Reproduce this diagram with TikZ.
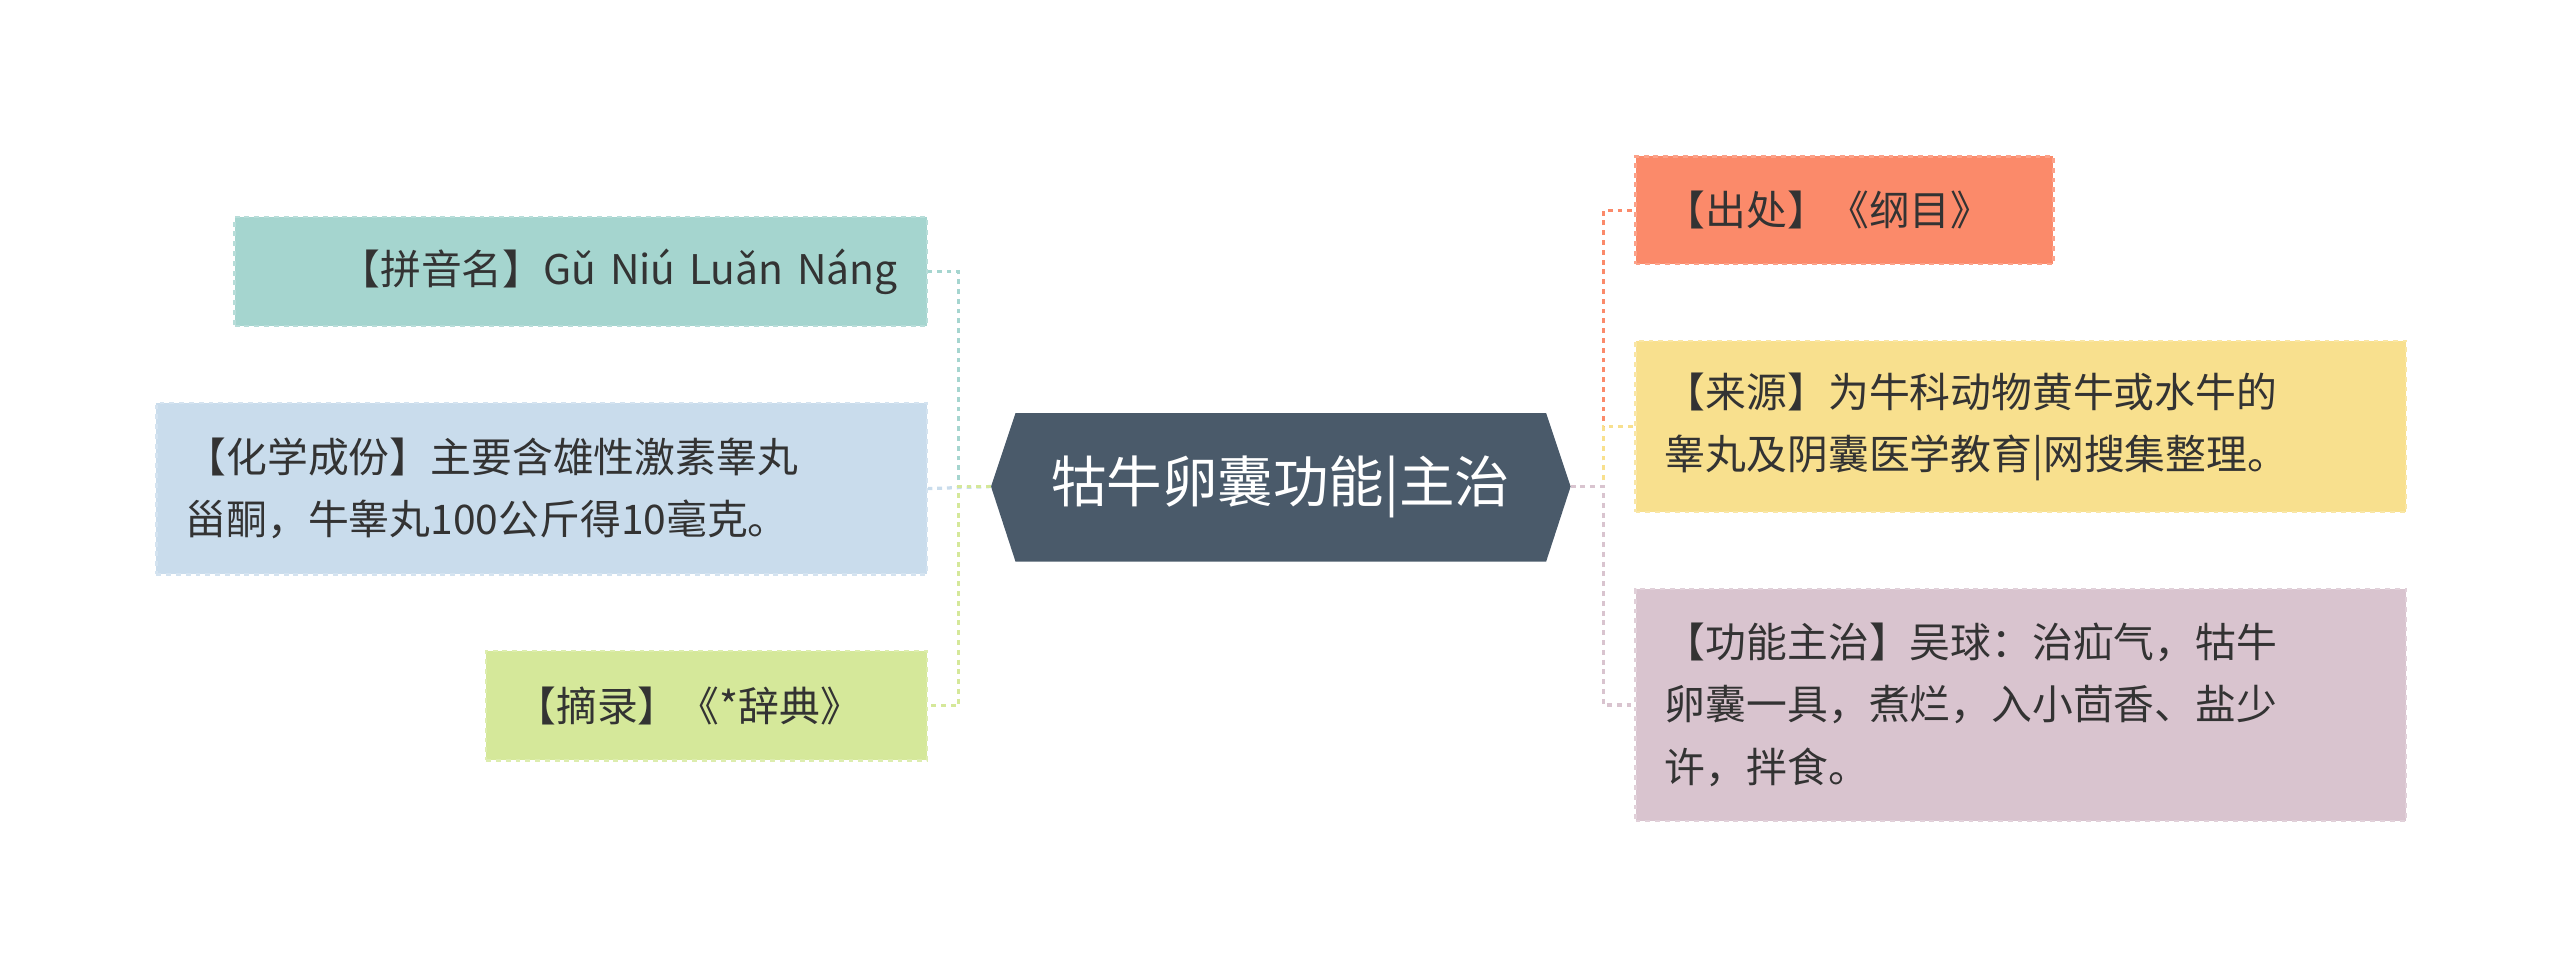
\documentclass[tikz,border=0pt]{standalone}
\usepackage{fontspec}
\setmainfont{Noto Sans CJK SC}
\usetikzlibrary{shapes.geometric}
\definecolor{cteal}{HTML}{A5D5CF}
\definecolor{cblue}{HTML}{C9DCEC}
\definecolor{cgreen}{HTML}{D5E89A}
\definecolor{corange}{HTML}{FB8A6A}
\definecolor{cyellow}{HTML}{F8E08E}
\definecolor{cpink}{HTML}{D9C4CF}
\definecolor{ccenter}{HTML}{4A5A6A}
\definecolor{ctext}{HTML}{333333}
\tikzset{
  x=1pt,y=-1pt,
  leaf/.style={draw=#1!80!white,dashed,line width=1.5pt,fill=#1,text=ctext,font=\fontsize{25}{38}\selectfont,align=left,inner xsep=18pt,inner ysep=0pt,anchor=north west,rectangle},
  link/.style={draw=#1,dashed,line width=2pt},
}
\begin{document}
\begin{tikzpicture}
\useasboundingbox (0,0) rectangle (1568,598);
% center
\node[regular polygon,regular polygon sides=6,draw=none] (dummy) at (0,0) {};
\fill[ccenter] (607,298) -- (622,253) -- (947,253) -- (962,298) -- (947,344) -- (622,344) -- cycle;
\node[text=white,font=\fontsize{34}{40}\selectfont] (c) at (784.5,298) {牯牛卵囊功能|主治};
\coordinate (cl) at (607,298);
\coordinate (cr) at (962,298);
% left
\node[leaf=cteal,minimum width=424pt,minimum height=67pt,text width=388pt] (l1) at (143,132) {\hfill【拼音名】Gǔ Niú Luǎn Náng};
\node[leaf=cblue,minimum width=472pt,minimum height=105pt,text width=436pt] (l2) at (95,246) {【化学成份】主要含雄性激素睾丸\\甾酮，牛睾丸100公斤得10毫克。};
\node[leaf=cgreen,minimum width=270pt,minimum height=67pt,text width=234pt] (l3) at (297,398) {【摘录】《*辞典》};
% right
\node[leaf=corange,minimum width=256pt,minimum height=66pt,text width=220pt] (r1) at (1001,95) {【出处】《纲目》};
\node[leaf=cyellow,minimum width=472pt,minimum height=105pt,text width=436pt] (r2) at (1001,208) {【来源】为牛科动物黄牛或水牛的\\睾丸及阴囊医学教育|网搜集整理。};
\node[leaf=cpink,minimum width=472pt,minimum height=142pt,text width=436pt] (r3) at (1001,360) {【功能主治】吴球：治疝气，牯牛\\卵囊一具，煮烂，入小茴香、盐少\\许，拌食。};
% links
\draw[link=cteal] (cl) -- (587,298) |- (l1.east);
\draw[link=cblue] (cl) -- (l2.east);
\draw[link=cgreen] (cl) -- (587,298) |- (l3.east);
\draw[link=corange] (cr) -- (982,298) |- (r1.west);
\draw[link=cyellow] (cr) -- (982,298) |- (r2.west);
\draw[link=cpink] (cr) -- (982,298) |- (r3.west);
\end{tikzpicture}
\end{document}
